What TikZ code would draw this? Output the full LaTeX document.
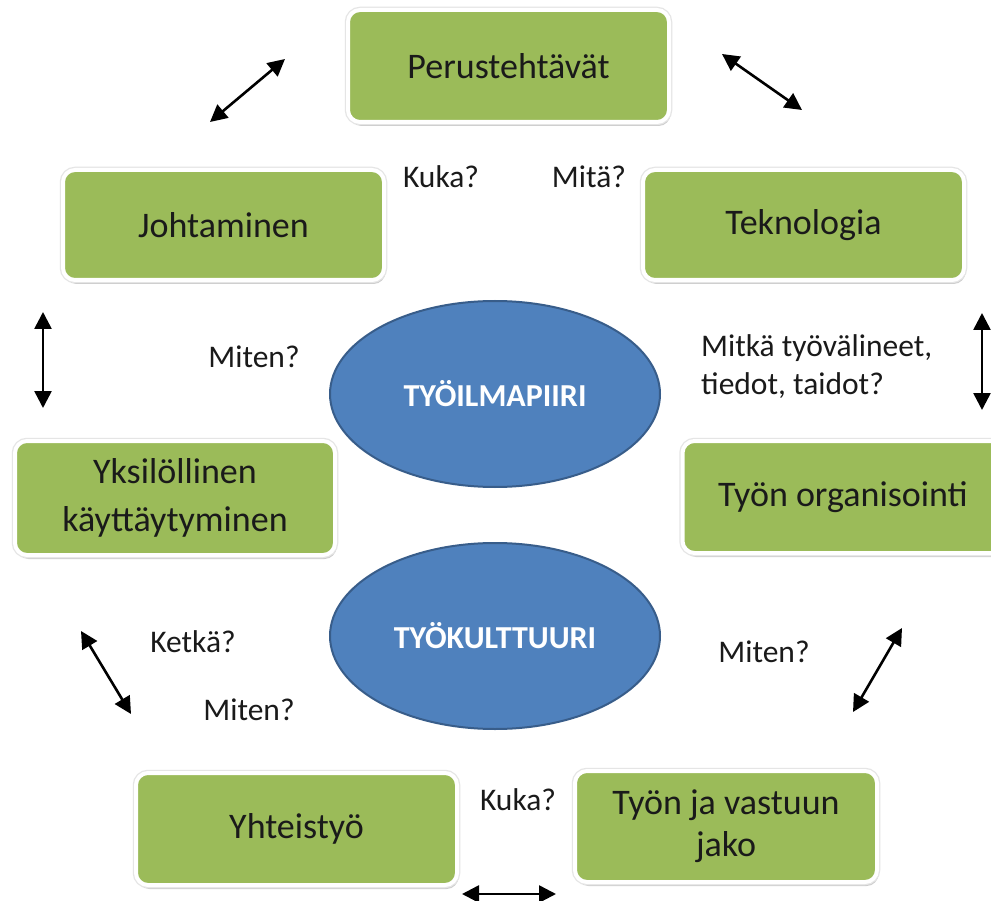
\documentclass[tikz,border=0pt]{standalone}
\usepackage{fontspec}
\setmainfont{Carlito}
\usetikzlibrary{shapes.geometric,shadows,arrows.meta}
\definecolor{boxgreen}{HTML}{9BBB59}
\definecolor{ellblue}{HTML}{4F81BD}
\definecolor{ellline}{HTML}{385D8A}
\definecolor{txt}{HTML}{1A1A1A}
\tikzset{
  gbox/.style={rectangle, rounded corners=12pt, fill=boxgreen, draw=white, line width=4pt,
    drop shadow={shadow xshift=1.5pt, shadow yshift=-4pt, opacity=0.2, fill=black},
    preaction={draw=black!10, line width=6.5pt},
    inner sep=0pt, align=center, text=txt, font=\fontsize{36}{48}\selectfont},
  bell/.style={ellipse, fill=ellblue, draw=ellline, line width=2pt, inner sep=0pt,
    minimum width=330pt, minimum height=186pt, text=white, font=\bfseries\fontsize{32}{36}\selectfont},
  lbl/.style={inner sep=0pt, text=txt, font=\fontsize{31.5}{38}\selectfont},
  darr/.style={{Triangle[length=17pt,width=17pt]}-{Triangle[length=17pt,width=17pt]}, line width=2.6pt, black}
}
\begin{document}
\begin{tikzpicture}[x=1pt,y=-1pt]
\useasboundingbox (0,0) rectangle (991,901);
\fill[white] (0,0) rectangle (991,901);

\node[gbox, minimum width=321pt, minimum height=112pt] (per) at (508.5,66) {Perustehtävät};
\node[gbox, minimum width=321pt, minimum height=110pt] (joh) at (223.5,225) {Johtaminen};
\node[gbox, minimum width=321pt, minimum height=110pt] (tek) at (803.5,225) {Teknologia};
\node[gbox, minimum width=320pt, minimum height=114pt] (yks) at (175,498) {Yksilöllinen\\käyttäytyminen};
\node[gbox, minimum width=321pt, minimum height=112pt] (org) at (843,497) {Työn organisointi};
\node[gbox, minimum width=321pt, minimum height=112pt] (yht) at (296.5,829) {Yhteistyö};
\node[gbox, minimum width=302pt, minimum height=111pt, font=\fontsize{36}{42}\selectfont] (jako) at (726,826.5) {Työn ja vastuun\\jako};

\node[bell] (ilma) at (495,394) {TYÖILMAPIIRI};
\node[bell] (kult) at (495,636) {TYÖKULTTUURI};

\node[lbl] (kuka1) at (441,177) {Kuka?};
\node[lbl] (mita) at (589,177) {Mitä?};
\node[lbl] (miten1) at (254,357) {Miten?};
\node[lbl, align=left, anchor=west] (mitka) at (701,367) {Mitkä työvälineet,\\tiedot, taidot?};
\node[lbl] (ketka) at (193,642) {Ketkä?};
\node[lbl] (miten2) at (249,710) {Miten?};
\node[lbl] (miten3) at (764,652) {Miten?};
\node[lbl] (kuka2) at (518,800) {Kuka?};

\coordinate (a1) at (210,122); \coordinate (b1) at (285,59);
\coordinate (a2) at (722,54);  \coordinate (b2) at (802,110);
\coordinate (a3) at (43,312);  \coordinate (b3) at (43,408);
\coordinate (a4) at (982,313); \coordinate (b4) at (982,410);
\coordinate (a5) at (81,631);  \coordinate (b5) at (131,714);
\coordinate (a6) at (902,628); \coordinate (b6) at (853,712);
\coordinate (a7) at (462,894); \coordinate (b7) at (556,894);
\draw[darr] (a1) -- (b1);
\draw[darr] (a2) -- (b2);
\draw[darr] (a3) -- (b3);
\draw[darr] (a4) -- (b4);
\draw[darr] (a5) -- (b5);
\draw[darr] (a6) -- (b6);
\draw[darr] (a7) -- (b7);
\end{tikzpicture}
\end{document}
